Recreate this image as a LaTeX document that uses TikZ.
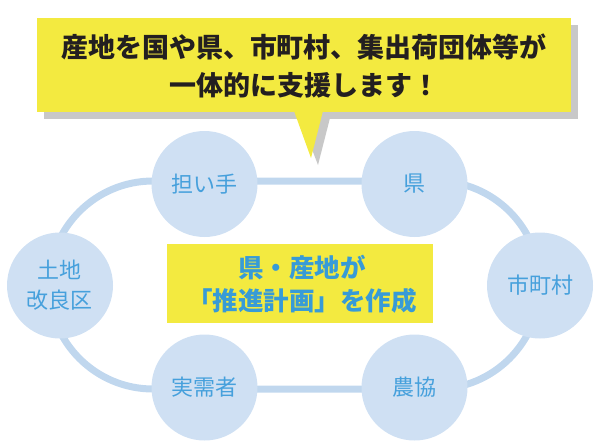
\documentclass[tikz,border=0pt]{standalone}
\usepackage{fontspec}
\newfontfamily\jp{Noto Sans CJK JP}
\definecolor{ylw}{RGB}{243,234,64}
\definecolor{shd}{RGB}{200,200,200}
\definecolor{cfill}{RGB}{207,224,243}
\definecolor{ringc}{RGB}{192,215,238}
\definecolor{ctext}{RGB}{70,160,220}
\definecolor{mtext}{RGB}{55,155,215}
\definecolor{ttext}{RGB}{35,31,32}
\tikzset{
  member/.style={circle, fill=cfill, minimum size=106pt, inner sep=0pt, text=ctext,
    font=\jp\fontsize{22}{30}\selectfont, align=center},
  ringline/.style={draw=ringc, line width=7pt},
}
\begin{document}
\begin{tikzpicture}[x=1pt,y=-1pt]
\useasboundingbox (0,0) rectangle (600,447);
% callout shadow
\fill[shd] (44,25) rectangle (578,119);
\fill[shd] (300,118) -- (318,165) -- (330,118) -- cycle;
% callout
\fill[ylw] (37,18) rectangle (571,112);
\fill[ylw] (294,111) -- (311,158) -- (323,111) -- cycle;
\node[text=ttext, font=\jp\bfseries\fontsize{27}{38}\selectfont, align=center] (title) at (304,66)
  {産地を国や県、市町村、集出荷団体等が\\一体的に支援します！};
% ring
\coordinate (tl) at (153,181);
\coordinate (tr) at (436,181);
\coordinate (br) at (436,389);
\coordinate (bl) at (153,389);
\draw[ringline] (tl) -- (tr) arc[start angle=-90, end angle=90, radius=104]
  -- (bl) arc[start angle=90, end angle=270, radius=104] -- cycle;
% members
\node[member] (ninaite) at (204.5,184) {担い手};
\node[member] (ken) at (414.5,184) {県};
\node[member] (tochi) at (60,285.5) {土地\\改良区};
\node[member] (shicho) at (540,285.5) {市町村};
\node[member] (jitsu) at (204.5,387.5) {実需者};
\node[member] (nokyo) at (414.5,387.5) {農協};
% center box
\fill[ylw] (167,244) rectangle (433,323);
\node[text=mtext, font=\jp\bfseries\fontsize{25.5}{33}\selectfont, align=center] (plan) at (302,284)
  {県・産地が\\「推進計画」を作成};
\end{tikzpicture}
\end{document}
